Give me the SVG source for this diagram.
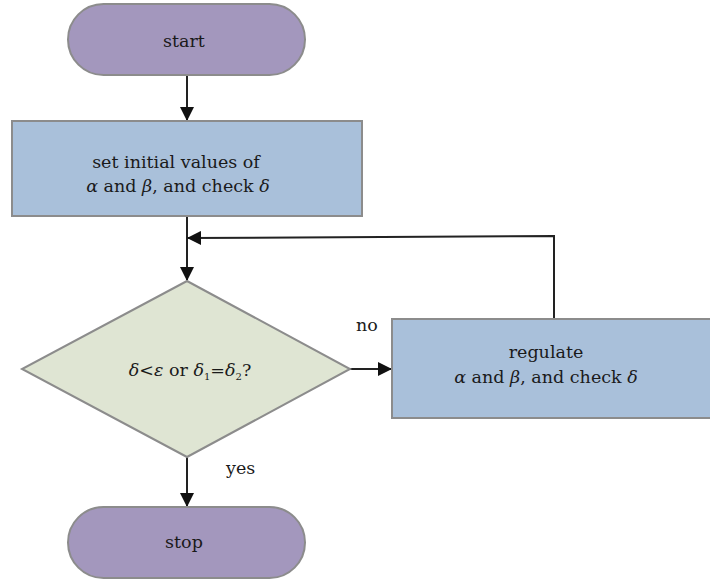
<svg xmlns="http://www.w3.org/2000/svg" width="710" height="582" viewBox="0 0 710 582">
<style>
.term{fill:#a397bd;stroke:#8c8c8c;stroke-width:2}
.proc{fill:#a9c0da;stroke:#8c8c8c;stroke-width:2}
.dec{fill:#dfe5d3;stroke:#8c8c8c;stroke-width:2}
text{font-family:"DejaVu Serif","Liberation Serif",serif;font-size:17.5px;fill:#1a1a1a;text-anchor:middle}
.lbl{text-anchor:start}
.ln{fill:none;stroke:#222;stroke-width:2}
</style>
<defs>
<marker id="ah" markerWidth="14" markerHeight="14" refX="13" refY="7" orient="auto" markerUnits="userSpaceOnUse" viewBox="0 0 14 14">
<path d="M0,0 L14,7 L0,14 z" fill="#111"/>
</marker>
</defs>
<g id="connectors">
<line class="ln" x1="187" y1="75" x2="187" y2="120" marker-end="url(#ah)"/>
<line class="ln" x1="187" y1="216" x2="187" y2="280" marker-end="url(#ah)"/>
<polyline class="ln" points="554,319 554,236 188,238" marker-end="url(#ah)"/>
<line class="ln" x1="350" y1="369" x2="391" y2="369" marker-end="url(#ah)"/>
<line class="ln" x1="187" y1="457" x2="187" y2="506" marker-end="url(#ah)"/>
</g>
<g id="start">
<rect class="term" x="68" y="4" width="237" height="71" rx="35.5"/>
<text x="184" y="47">start</text>
</g>
<g id="init">
<rect class="proc" x="12" y="121" width="350" height="95"/>
<text x="176" y="168">set initial values of</text>
<text x="178" y="192"><tspan font-style="italic">α</tspan> and <tspan font-style="italic">β</tspan>, and check <tspan font-style="italic">δ</tspan></text>
</g>
<g id="decision">
<polygon class="dec" points="187,281 350,369 187,457 22,369"/>
<text x="190" y="376"><tspan font-style="italic">δ</tspan>&lt;<tspan font-style="italic">ε</tspan> or <tspan font-style="italic">δ</tspan><tspan font-size="10" dy="4">1</tspan><tspan dy="-4">=</tspan><tspan font-style="italic">δ</tspan><tspan font-size="10" dy="4">2</tspan><tspan dy="-4">?</tspan></text>
</g>
<g id="regulate">
<rect class="proc" x="392" y="319" width="320" height="99"/>
<text x="546" y="358">regulate</text>
<text x="546" y="383"><tspan font-style="italic">α</tspan> and <tspan font-style="italic">β</tspan>, and check <tspan font-style="italic">δ</tspan></text>
</g>
<g id="stop">
<rect class="term" x="68" y="507" width="237" height="71" rx="35.5"/>
<text x="184" y="548">stop</text>
</g>
<g id="labels">
<text class="lbl" x="356" y="331">no</text>
<text class="lbl" x="226" y="474">yes</text>
</g>
</svg>
